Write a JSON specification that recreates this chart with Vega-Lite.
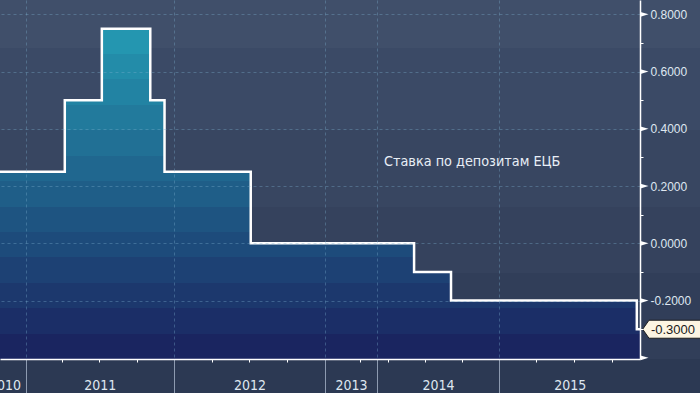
{
  "$schema": "https://vega.github.io/schema/vega-lite/v6.json",
  "width": 640,
  "height": 359,
  "autosize": {"type": "none"},
  "padding": {"left": 0, "top": 0, "right": 60, "bottom": 34},
  "background": "#2c3953",
  "config": {"view": {"stroke": null}},
  "datasets": {
    "rate": [
      {"date": "2010-10-30", "rate": 0.25},
      {"date": "2011-04-07", "rate": 0.5},
      {"date": "2011-07-07", "rate": 0.75},
      {"date": "2011-11-03", "rate": 0.5},
      {"date": "2011-12-08", "rate": 0.25},
      {"date": "2012-07-05", "rate": 0.0},
      {"date": "2014-06-05", "rate": -0.1},
      {"date": "2014-09-04", "rate": -0.2},
      {"date": "2015-12-03", "rate": -0.3},
      {"date": "2015-12-11", "rate": -0.3}
    ],
    "yticks": [
      {"v": 0.8}, {"v": 0.6}, {"v": 0.4}, {"v": 0.2}, {"v": 0.0}, {"v": -0.2}, {"v": -0.4}
    ],
    "note": [
      {"date": "2014-02-06", "rate": 0.285, "label": "Ставка по депозитам ЕЦБ"}
    ]
  },
  "layer": [
    {
      "data": {"values": [{}]},
      "mark": {
        "type": "rect",
        "fill": {
          "gradient": "linear", "x1": 0, "y1": 0, "x2": 0, "y2": 1,
          "stops": [
            {"offset": 0, "color": "#404f6a"}, {"offset": 0.133, "color": "#404f6a"},
            {"offset": 0.133, "color": "#3b4a66"}, {"offset": 0.362, "color": "#3b4a66"},
            {"offset": 0.362, "color": "#384661"}, {"offset": 0.576, "color": "#384661"},
            {"offset": 0.576, "color": "#35425d"}, {"offset": 0.761, "color": "#35425d"},
            {"offset": 0.761, "color": "#313e59"}, {"offset": 1, "color": "#313e59"}
          ]
        }
      },
      "encoding": {
        "x": {"value": 0},
        "x2": {"value": {"expr": "width + 60"}},
        "y": {"value": 0},
        "y2": {"value": {"expr": "height"}}
      }
    },
    {
      "data": {"name": "rate"},
      "mark": {
        "type": "area",
        "interpolate": "step-after",
        "fill": {
          "gradient": "linear", "x1": 0, "y1": 0, "x2": 0, "y2": 1,
          "stops": [
            {"offset": 0, "color": "#2496b0"}, {"offset": 0.0769, "color": "#2496b0"},
            {"offset": 0.0769, "color": "#238ca9"}, {"offset": 0.1538, "color": "#238ca9"},
            {"offset": 0.1538, "color": "#2283a3"}, {"offset": 0.2308, "color": "#2283a3"},
            {"offset": 0.2308, "color": "#227a9c"}, {"offset": 0.3077, "color": "#227a9c"},
            {"offset": 0.3077, "color": "#217095"}, {"offset": 0.3846, "color": "#217095"},
            {"offset": 0.3846, "color": "#20678f"}, {"offset": 0.4615, "color": "#20678f"},
            {"offset": 0.4615, "color": "#1f5e88"}, {"offset": 0.5385, "color": "#1f5e88"},
            {"offset": 0.5385, "color": "#1e5481"}, {"offset": 0.6154, "color": "#1e5481"},
            {"offset": 0.6154, "color": "#1d4b7b"}, {"offset": 0.6923, "color": "#1d4b7b"},
            {"offset": 0.6923, "color": "#1d4174"}, {"offset": 0.7692, "color": "#1d4174"},
            {"offset": 0.7692, "color": "#1c386d"}, {"offset": 0.8462, "color": "#1c386d"},
            {"offset": 0.8462, "color": "#1b2e67"}, {"offset": 0.9231, "color": "#1b2e67"},
            {"offset": 0.9231, "color": "#1a2560"}, {"offset": 1, "color": "#1a2560"}
          ]
        }
      },
      "encoding": {
        "x": {
          "field": "date", "type": "temporal",
          "scale": {
            "type": "time",
            "nice": false,
            "domain": {"expr": "[utc(2010,9,30), utc(2011,0,1), utc(2012,0,1), utc(2013,0,1), utc(2013,3,1), utc(2013,10,1), utc(2014,3,1), utc(2015,0,1), utc(2015,9,1), utc(2015,11,11)]"},
            "range": [0, 25.7, 174.3, 324.7, 360, 377.3, 387.7, 499.3, 611.7, 640]
          },
          "axis": {
            "title": null,
            "tickCount": 200,
            "values": [
              {"year": 2011, "month": 1, "date": 1, "utc": true},
              {"year": 2012, "month": 1, "date": 1, "utc": true},
              {"year": 2013, "month": 1, "date": 1, "utc": true},
              {"year": 2013, "month": 11, "date": 1, "utc": true},
              {"year": 2015, "month": 1, "date": 1, "utc": true},
              {"year": 2011, "month": 4, "date": 1, "utc": true},
              {"year": 2011, "month": 7, "date": 1, "utc": true},
              {"year": 2011, "month": 10, "date": 1, "utc": true},
              {"year": 2012, "month": 4, "date": 1, "utc": true},
              {"year": 2012, "month": 7, "date": 1, "utc": true},
              {"year": 2012, "month": 10, "date": 1, "utc": true},
              {"year": 2013, "month": 4, "date": 1, "utc": true},
              {"year": 2014, "month": 4, "date": 1, "utc": true},
              {"year": 2014, "month": 7, "date": 1, "utc": true},
              {"year": 2014, "month": 10, "date": 1, "utc": true},
              {"year": 2015, "month": 4, "date": 1, "utc": true},
              {"year": 2015, "month": 7, "date": 1, "utc": true},
              {"year": 2015, "month": 10, "date": 1, "utc": true},
              {"year": 2010, "month": 11, "date": 10, "utc": true},
              {"year": 2011, "month": 7, "date": 2, "utc": true},
              {"year": 2012, "month": 7, "date": 2, "utc": true},
              {"year": 2013, "month": 3, "date": 9, "utc": true},
              {"year": 2014, "month": 8, "date": 3, "utc": true},
              {"year": 2015, "month": 6, "date": 21, "utc": true}
            ],
            "labelExpr": "utcdate(datum.value) == 1 ? '' : utcFormat(datum.value, '%Y')",
            "labelFont": "Liberation Sans Narrow, DejaVu Sans Condensed, sans-serif",
            "labelFontSize": 14,
            "labelColor": "#dfe7f0",
            "labelPadding": -15,
            "labelFlush": false,
            "labelOverlap": false,
            "labelBound": false,
            "domainColor": "#ffffff",
            "domainWidth": 1.5,
            "tickColor": {"condition": {"test": "utcdate(datum.value) == 1 && (utcmonth(datum.value) == 3 || utcmonth(datum.value) == 6 || utcmonth(datum.value) == 9)", "value": "#ffffff"}, "value": "#8d9ab0"},
            "tickSize": {"condition": {"test": "utcdate(datum.value) == 1 && (utcmonth(datum.value) == 3 || utcmonth(datum.value) == 6 || utcmonth(datum.value) == 9)", "value": 3}, "value": 34},
            "tickOpacity": {"condition": {"test": "utcdate(datum.value) != 1", "value": 0}, "value": 1},
            "tickWidth": 1,
            "grid": true,
            "gridColor": "rgba(127,179,208,0.35)",
            "gridDash": [3, 3],
            "gridOpacity": {"condition": {"test": "utcdate(datum.value) == 1 && (utcmonth(datum.value) == 0 || utcmonth(datum.value) == 10)", "value": 1}, "value": 0},
            "zindex": 1
          }
        },
        "y": {
          "field": "rate", "type": "quantitative",
          "scale": {"domain": [-0.404, 0.85], "nice": false, "zero": false},
          "axis": {
            "orient": "right",
            "title": null,
            "tickCount": 200,
            "values": [-0.4, -0.3, -0.2, -0.1, 0, 0.1, 0.2, 0.3, 0.4, 0.5, 0.6, 0.7, 0.8],
            "labelExpr": "(abs(round(datum.value * 10)) % 2 == 0 && datum.value > -0.35) ? replace(format(datum.value, '.4f'), '\u2212', '-') : ''",
            "labelFont": "Liberation Sans, sans-serif",
            "labelFontSize": 12,
            "labelColor": "#dfe7f0",
            "labelPadding": 7,
            "labelFlush": false,
            "labelOverlap": false,
            "labelBound": false,
            "tickSize": 3,
            "tickColor": "#ffffff",
            "tickOpacity": {"condition": {"test": "abs(round(datum.value * 10)) % 2 == 1", "value": 1}, "value": 0},
            "domainColor": "#ffffff",
            "domainWidth": 1.5,
            "grid": true,
            "gridColor": "rgba(127,179,208,0.35)",
            "gridDash": [3, 3],
            "gridOpacity": {"condition": {"test": "abs(round(datum.value * 10)) % 2 == 0 && datum.value > -0.35", "value": 1}, "value": 0},
            "zindex": 1
          }
        },
        "y2": {"datum": -0.404}
      }
    },
    {
      "data": {"name": "rate"},
      "mark": {"type": "line", "interpolate": "step-after", "color": "#ffffff", "strokeWidth": 2.5},
      "encoding": {
        "x": {
          "field": "date", "type": "temporal",
          "scale": {
            "type": "time",
            "nice": false,
            "domain": {"expr": "[utc(2010,9,30), utc(2011,0,1), utc(2012,0,1), utc(2013,0,1), utc(2013,3,1), utc(2013,10,1), utc(2014,3,1), utc(2015,0,1), utc(2015,9,1), utc(2015,11,11)]"},
            "range": [0, 25.7, 174.3, 324.7, 360, 377.3, 387.7, 499.3, 611.7, 640]
          }
        },
        "y": {"field": "rate", "type": "quantitative", "scale": {"domain": [-0.404, 0.85], "nice": false, "zero": false}}
      }
    },
    {
      "data": {"name": "note"},
      "mark": {
        "type": "text", "align": "left", "baseline": "middle",
        "font": "Liberation Sans Narrow, DejaVu Sans Condensed, sans-serif",
        "fontSize": 14.3, "color": "#e8eef6"
      },
      "encoding": {
        "x": {
          "field": "date", "type": "temporal",
          "scale": {
            "type": "time",
            "nice": false,
            "domain": {"expr": "[utc(2010,9,30), utc(2011,0,1), utc(2012,0,1), utc(2013,0,1), utc(2013,3,1), utc(2013,10,1), utc(2014,3,1), utc(2015,0,1), utc(2015,9,1), utc(2015,11,11)]"},
            "range": [0, 25.7, 174.3, 324.7, 360, 377.3, 387.7, 499.3, 611.7, 640]
          }
        },
        "y": {"field": "rate", "type": "quantitative", "scale": {"domain": [-0.404, 0.85], "nice": false, "zero": false}},
        "text": {"field": "label"}
      }
    },
    {
      "data": {"name": "yticks"},
      "mark": {"type": "point", "shape": "M -1 -0.6 L 1 0 L -1 0.6 Z", "filled": true, "color": "#ffffff", "opacity": 1, "size": 64, "xOffset": 4.5},
      "encoding": {
        "x": {
          "datum": {"year": 2015, "month": 12, "date": 11, "utc": true}, "type": "temporal",
          "scale": {
            "type": "time",
            "nice": false,
            "domain": {"expr": "[utc(2010,9,30), utc(2011,0,1), utc(2012,0,1), utc(2013,0,1), utc(2013,3,1), utc(2013,10,1), utc(2014,3,1), utc(2015,0,1), utc(2015,9,1), utc(2015,11,11)]"},
            "range": [0, 25.7, 174.3, 324.7, 360, 377.3, 387.7, 499.3, 611.7, 640]
          }
        },
        "y": {"field": "v", "type": "quantitative", "scale": {"domain": [-0.404, 0.85], "nice": false, "zero": false}}
      }
    },
    {
      "data": {"name": "rate"},
      "transform": [
        {"window": [{"op": "row_number", "as": "rn"}], "sort": [{"field": "date", "order": "descending"}]},
        {"filter": "datum.rn == 1"},
        {"calculate": "replace(format(datum.rate, '.4f'), '\u2212', '-')", "as": "label"}
      ],
      "encoding": {
        "x": {
          "field": "date", "type": "temporal",
          "scale": {
            "type": "time",
            "nice": false,
            "domain": {"expr": "[utc(2010,9,30), utc(2011,0,1), utc(2012,0,1), utc(2013,0,1), utc(2013,3,1), utc(2013,10,1), utc(2014,3,1), utc(2015,0,1), utc(2015,9,1), utc(2015,11,11)]"},
            "range": [0, 25.7, 174.3, 324.7, 360, 377.3, 387.7, 499.3, 611.7, 640]
          }
        },
        "y": {"field": "rate", "type": "quantitative", "scale": {"domain": [-0.404, 0.85], "nice": false, "zero": false}}
      },
      "layer": [
        {
          "mark": {"type": "point", "shape": "M -0.977 0 L -0.767 -0.3 L 0.967 -0.3 L 0.967 0.3 L -0.767 0.3 Z", "filled": true, "fill": "#fdf5e2", "stroke": "#1e1e1e", "strokeWidth": 1, "opacity": 1, "size": 3600, "xOffset": 32}
        },
        {
          "mark": {"type": "text", "align": "center", "baseline": "middle", "font": "Liberation Sans, sans-serif", "fontSize": 13, "color": "#1a1a1a", "dx": 33, "dy": 0.5},
          "encoding": {"text": {"field": "label"}}
        }
      ]
    }
  ]
}
